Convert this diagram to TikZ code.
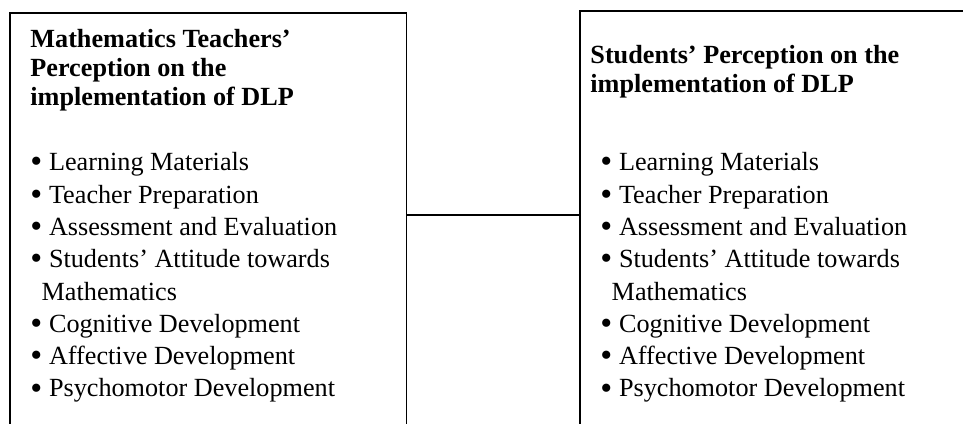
\documentclass[tikz,border=0pt]{standalone}
\usepackage{fontspec}
\setmainfont{Liberation Serif}
\usepackage{tikz}

\tikzstyle{panel} = [rectangle, 
draw=black, 
line width=0.7pt, 
inner sep=0pt, 
anchor=north west]
\tikzstyle{heading} = [inner sep=0pt, 
anchor=base west, 
align=left, 
font=\bfseries\fontsize{12}{13.3}\selectfont]
\tikzstyle{items} = [inner sep=0pt, 
anchor=base west, 
align=left, 
font=\fontsize{12}{14.8}\selectfont]
\tikzstyle{link} = [line width=0.7pt]

% bigger bullet, then a fixed gap before the item text
\newcommand{\itm}{\makebox[0.71em][l]{\raisebox{-0.08em}{\scalebox{1.3}{\textbullet}}}}
\newcommand{\wrapind}{\hspace*{0.43em}}

\begin{document}
\begin{tikzpicture}[x=0.458pt, y=-0.458pt]
        \useasboundingbox (0,0) rectangle (963,424);

        % both frames run on past the lower edge
        \node (tbox) [panel, minimum width=181.7pt, minimum height=205pt] at (9,12) {};
        \node (sbox) [panel, minimum width=200pt, minimum height=205pt] at (579,10) {};

        % text blocks sit on the baseline of their last line
        \node (thead) [heading] at (30,106) {Mathematics Teachers'\\Perception on the\\implementation of DLP};
        \node (tlist) [items] at (30,397) {\itm Learning Materials\\
            \itm Teacher Preparation\\
            \itm Assessment and Evaluation\\
            \itm Students' Attitude towards\\
            \wrapind Mathematics\\
            \itm Cognitive Development\\
            \itm Affective Development\\
            \itm Psychomotor Development};

        \node (shead) [heading] at (590,93) {Students' Perception on the\\implementation of DLP};
        \node (slist) [items] at (600,397) {\itm Learning Materials\\
            \itm Teacher Preparation\\
            \itm Assessment and Evaluation\\
            \itm Students' Attitude towards\\
            \wrapind Mathematics\\
            \itm Cognitive Development\\
            \itm Affective Development\\
            \itm Psychomotor Development};

        \coordinate (mid) at (0,215);
        \draw [link] (tbox.east |- mid) -- (sbox.west |- mid);

    \end{tikzpicture}
\end{document}
